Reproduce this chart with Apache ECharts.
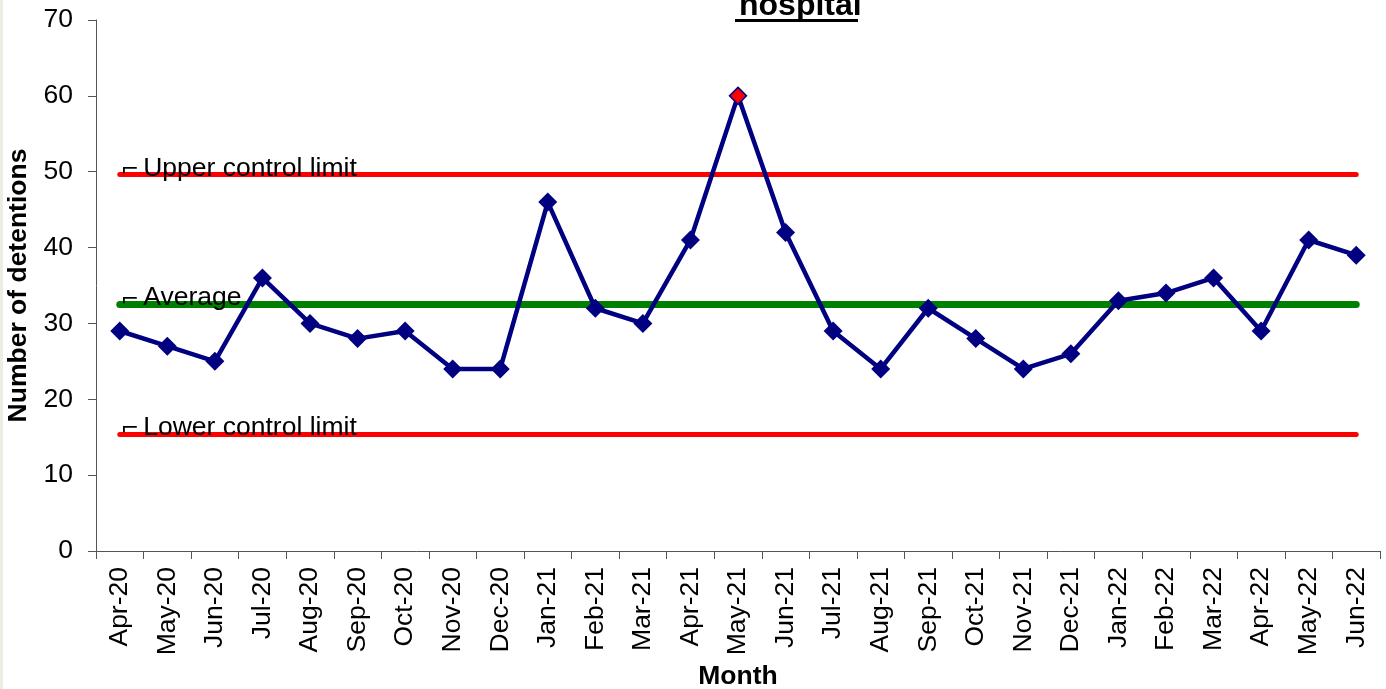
<!DOCTYPE html>
<html>
<head>
<meta charset="utf-8">
<script src="https://cdn.jsdelivr.net/npm/echarts@6/dist/echarts.min.js"></script>
<style>
html,body{margin:0;padding:0;background:#fff;}
#main{width:1386px;height:689px;}
#edge{position:absolute;left:0;top:0;width:3px;height:689px;background:#ecece4;}
</style>
</head>
<body>
<div id="main"></div>
<div id="edge"></div>
<script>
const months = ['Apr-20','May-20','Jun-20','Jul-20','Aug-20','Sep-20','Oct-20','Nov-20','Dec-20','Jan-21','Feb-21','Mar-21','Apr-21','May-21','Jun-21','Jul-21','Aug-21','Sep-21','Oct-21','Nov-21','Dec-21','Jan-22','Feb-22','Mar-22','Apr-22','May-22','Jun-22'];
const detentions = [29,27,25,36,30,28,29,24,24,46,32,30,41,60,42,29,24,32,28,24,26,33,34,36,29,41,39];
const highlightIndex = [13];
const upperLimit = 49.6;
const averageValue = 32.5;
const lowerLimit = 15.4;
const yTicks = [0,10,20,30,40,50,60,70];

const FONT = 'Arial, "Liberation Sans", sans-serif';
const FS = 26.5;
const chart = echarts.init(document.getElementById('main'), null, {renderer:'canvas'});

function limitSeries(name, value, color, width) {
  return {
    name: name, type: 'line', data: [], silent: true,
    markLine: {
      symbol: ['none','none'], silent: true, animation: false,
      lineStyle: {color: color, width: width, type: 'solid', cap: 'round'},
      label: {
        show: true, position: 'insideStartTop', distance: [1, -7],
        formatter: '{g|⌐}{t|' + name + '}',
        color: '#000', fontFamily: FONT, fontSize: FS,
        rich: {
          g: {fontFamily: 'DejaVu Sans', fontSize: 22, color: '#000', padding: [4, 0, 0, 0]},
          t: {fontFamily: FONT, fontSize: FS, color: '#000', padding: [0, 0, 0, 4]}
        }
      },
      emphasis: {disabled: true},
      data: [[{coord: [months[0], value]}, {coord: [months[months.length-1], value]}]]
    },
    z: 1
  };
}

chart.setOption({
  animation: false,
  backgroundColor: '#fff',
  title: {
    text: 'hospital', left: 734, top: -15,
    textStyle: {fontFamily: FONT, fontWeight: 'bold', fontSize: 32, color: '#000'}
  },
  graphic: [{type: 'rect', shape: {x: 735, y: 19, width: 123, height: 3}, style: {fill: '#000'}}],
  grid: {left: 96, right: 6, top: 20, bottom: 138, outerBoundsMode: 'none', containLabel: false},
  xAxis: {
    type: 'category', data: months, boundaryGap: true,
    name: 'Month', nameLocation: 'middle', nameGap: 111,
    nameTextStyle: {fontFamily: FONT, fontWeight: 'bold', fontSize: FS, color: '#000'},
    axisLine: {lineStyle: {color: '#555', width: 1}},
    axisTick: {show: true, length: 8, lineStyle: {color: '#555'}},
    axisLabel: {rotate: 90, margin: 16, fontFamily: FONT, fontSize: FS, color: '#000', interval: 0}
  },
  yAxis: {
    type: 'value', min: yTicks[0], max: yTicks[yTicks.length-1], interval: 10,
    name: 'Number of detentions', nameLocation: 'middle', nameGap: 63,
    nameTextStyle: {fontFamily: FONT, fontWeight: 'bold', fontSize: FS, color: '#000'},
    axisLine: {show: true, lineStyle: {color: '#555', width: 1}},
    axisTick: {show: true, length: 8, lineStyle: {color: '#555'}},
    splitLine: {show: false},
    axisLabel: {margin: 23, fontFamily: FONT, fontSize: FS, color: '#000'}
  },
  series: [
    limitSeries('Upper control limit', upperLimit, '#ff0000', 5),
    limitSeries('Average', averageValue, '#008000', 7),
    limitSeries('Lower control limit', lowerLimit, '#ff0000', 5),
    {
      name: 'Detentions', type: 'line', z: 5,
      data: detentions.map((v, i) => highlightIndex.includes(i)
        ? {value: v, symbolSize: 17, itemStyle: {color: '#ff0000', borderColor: '#000080', borderWidth: 1.5}}
        : v),
      symbol: 'diamond', symbolSize: 19, showAllSymbol: true,
      lineStyle: {color: '#000080', width: 4.5},
      itemStyle: {color: '#000080', borderColor: '#000080', borderWidth: 0},
      emphasis: {disabled: true}
    }
  ]
});
</script>
</body>
</html>
